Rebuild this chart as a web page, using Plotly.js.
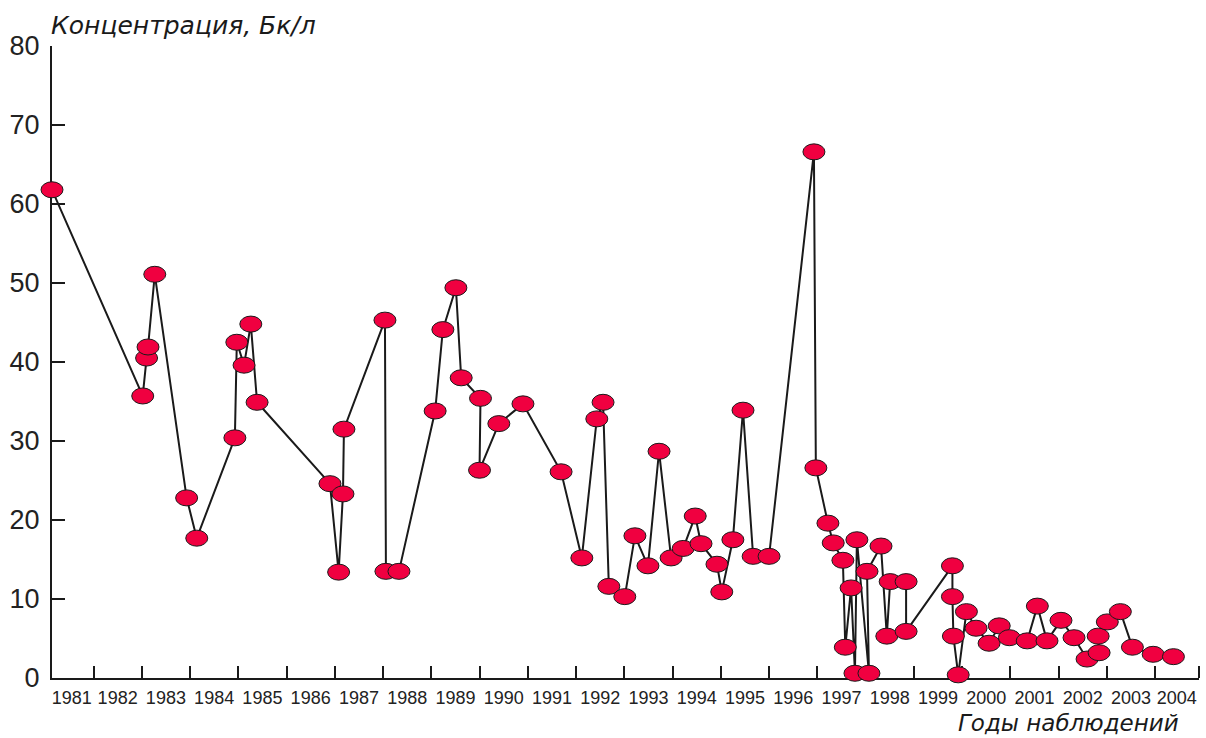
<!DOCTYPE html>
<html>
<head>
<meta charset="utf-8">
<script src="https://cdn.plot.ly/plotly-3.0.1.min.js"></script>
<style>html,body{margin:0;padding:0;background:#fff;}#chart{width:1206px;height:738px;}</style>
</head>
<body>
<div id="chart"></div>
<script>
// Observation time (decimal year) and concentration (Bq/l)
const years = [
  1981.14, 1983.02, 1983.10, 1983.13, 1983.27, 1983.93, 1984.14, 1984.93, 1984.97, 1985.12,
  1985.26, 1985.39, 1986.90, 1987.08, 1987.17, 1987.19, 1988.04, 1988.06, 1988.33, 1989.08,
  1989.24, 1989.51, 1989.62, 1990.02, 1990.00, 1990.40, 1990.90, 1991.69, 1992.12, 1992.43,
  1992.56, 1992.68, 1993.01, 1993.22, 1993.49, 1993.72, 1993.97, 1994.22, 1994.47, 1994.59,
  1994.92, 1995.02, 1995.25, 1995.46, 1995.67, 1996.00, 1996.93, 1996.97, 1997.22, 1997.33,
  1997.53, 1997.58, 1997.70, 1997.78, 1997.82, 1998.07, 1998.03, 1998.32, 1998.44, 1998.51,
  1998.84, 1998.84, 1999.80, 1999.80, 1999.82, 1999.92, 2000.09, 2000.29, 2000.56, 2000.77,
  2000.98, 2001.35, 2001.56, 2001.76, 2002.05, 2002.32, 2002.59, 2002.84, 2002.82, 2003.01,
  2003.28, 2003.53, 2003.96, 2004.38
];
const concentration = [
  61.8, 35.7, 40.5, 41.9, 51.1, 22.8, 17.7, 30.4, 42.5, 39.6,
  44.8, 34.9, 24.6, 13.4, 23.3, 31.5, 45.3, 13.5, 13.5, 33.8,
  44.1, 49.4, 38.0, 35.4, 26.3, 32.2, 34.7, 26.1, 15.2, 32.8,
  34.9, 11.6, 10.3, 18.0, 14.2, 28.7, 15.2, 16.4, 20.5, 17.0,
  14.4, 10.9, 17.5, 33.9, 15.4, 15.4, 66.6, 26.6, 19.6, 17.1,
  14.9, 3.9, 11.4, 0.6, 17.5, 0.6, 13.5, 16.7, 5.3, 12.2,
  12.2, 5.9, 14.2, 10.3, 5.3, 0.4, 8.4, 6.3, 4.4, 6.6,
  5.1, 4.7, 9.1, 4.7, 7.3, 5.1, 2.4, 3.2, 5.3, 7.1,
  8.4, 3.9, 3.0, 2.7
];
// Year boundaries (tick marks) and year labels (between the marks)
const yearBoundaries = [1982,1983,1984,1985,1986,1987,1988,1989,1990,1991,1992,1993,1994,1995,1996,1997,1998,1999,2000,2001,2002,2003,2004,2004.9];
const yearLabels = ["1981","1982","1983","1984","1985","1986","1987","1988","1989","1990","1991","1992","1993","1994","1995","1996","1997","1998","1999","2000","2001","2002","2003","2004"];
const yearLabelPos = [1981.55,1982.5,1983.5,1984.5,1985.5,1986.5,1987.5,1988.5,1989.5,1990.5,1991.5,1992.5,1993.5,1994.5,1995.5,1996.5,1997.5,1998.5,1999.5,2000.5,2001.5,2002.5,2003.5,2004.45];
const yTicks = [0,10,20,30,40,50,60,70,80];

const markerFill = '#f00040';
const ink = '#1a1a1a';

const trace = {
  x: years, y: concentration, type: 'scatter', mode: 'lines',
  line: {color: ink, width: 2}, hoverinfo: 'x+y', showlegend: false
};

// Horizontal ellipse markers anchored at the data values
const shapes = years.map((x, i) => ({
  type: 'circle', xref: 'x', yref: 'y',
  xsizemode: 'pixel', ysizemode: 'pixel',
  xanchor: x, yanchor: concentration[i],
  x0: -11, x1: 11, y0: -8, y1: 8,
  fillcolor: markerFill, line: {color: ink, width: 1}, layer: 'above'
}));

const layout = {
  width: 1206, height: 738,
  margin: {l: 52, r: 7, t: 46, b: 60},
  paper_bgcolor: '#fff', plot_bgcolor: '#fff',
  font: {family: 'Liberation Sans, Arial, sans-serif', color: ink},
  xaxis: {
    range: [1981.14, 2004.91], showgrid: false, zeroline: false,
    showline: true, linecolor: ink, linewidth: 2,
    tickmode: 'array', tickvals: yearLabelPos, ticktext: yearLabels,
    ticks: '', ticklabelstandoff: 2,
    tickfont: {size: 18, color: '#222'},
    minor: {tickmode: 'array', tickvals: yearBoundaries, ticks: 'inside', ticklen: 12, tickwidth: 2, tickcolor: ink, showgrid: false}
  },
  yaxis: {
    range: [0, 80], showgrid: false, zeroline: false,
    showline: true, linecolor: ink, linewidth: 2,
    tickmode: 'array', tickvals: yTicks,
    ticks: 'inside', ticklen: 13, tickwidth: 2, tickcolor: ink,
    ticklabelstandoff: 5,
    tickfont: {size: 27, color: '#222'}
  },
  shapes: shapes,
  annotations: [
    {text: '<i>Концентрация, Бк/л</i>', xref: 'paper', yref: 'paper', x: 0, y: 1,
     xanchor: 'left', yanchor: 'middle', xshift: -3, yshift: 21, showarrow: false,
     font: {family: 'DejaVu Sans, sans-serif', size: 25, color: ink}},
    {text: '<i>Годы наблюдений</i>', xref: 'paper', yref: 'paper', x: 1, y: 0,
     xanchor: 'right', yanchor: 'middle', xshift: -19, yshift: -45, showarrow: false,
     borderpad: 0,
     font: {family: 'DejaVu Sans, sans-serif', size: 23, color: ink}}
  ]
};

function unclipShapes() {
  document.querySelectorAll('.shapelayer [clip-path], .shapelayer').forEach(el => el.removeAttribute('clip-path'));
}
Plotly.newPlot('chart', [trace], layout, {displayModeBar: false, staticPlot: true}).then(() => {
  unclipShapes();
  setTimeout(unclipShapes, 50);
});
</script>
</body>
</html>
